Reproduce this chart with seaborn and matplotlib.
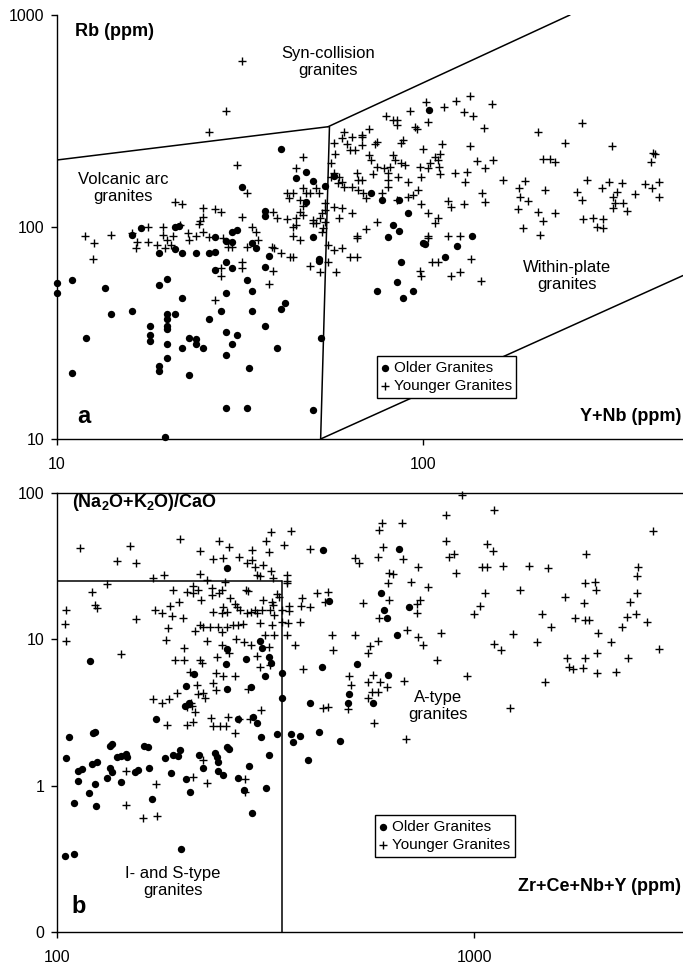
import pandas as pd
import matplotlib
matplotlib.use("Agg")
import matplotlib.pyplot as plt
import seaborn as sns
from matplotlib.ticker import NullLocator

# panel a : Rb vs Y+Nb (Pearce et al.)
older_a = [(41,233),(45,170),(48,181),(50,165),(54,156),(32,155),(48,131),(37,119),(37,113),(30,95),(31,97),(27,90),
           (21,100),(21.5,101),(17,99),(16,92),(50,90),(29,86),(30,85),(19,75),(21,79),(22,75),(24,75),(26,75),(27,76),
           (34,84),(35,80),(38,73),(52,71),(52,69),(29,68),(27,63),(30,64),(37,65),(10,54.5),(10,49),(11,56),(13.5,51.5),
           (19,53),(20,57),(33,56),(34,50),(29,49),(22,46),(16,40),(14,39),(20,39),(20,37),(21,39),(28,40),(34,40),(41,41),
           (42,44),(26,37),(18,34),(18,31),(18,29),(20,34),(20,33),(37,34),(29,32),(31,31),(12,30),(23,30),(24,29.6),(24,28),
           (25,27),(22,27),(20,28),(30,28),(40,27),(52.6,30),(29,25),(20,24),(19,22),(19,21),(33.5,21.6),(11,20.5),(23,20),
           (29,14),(33,14),(50,13.7),(19.7,10.2),(104,356),(57,174),(72,145),(77,134),(86,134),(91,116),(83,102),(86,96),
           (80,90),(136,91),(100,84),(101,83),(124,81),(115,72),(87,68),(85,55),(94,50),(75,50),(88,46)]

younger_a = [(32,607),(29,352),(26,280),(31,196),(47,214),(45,190),(42.5,145),(44,145),(43,137),(47,153),(48,145),(49,145),
             (51,153),(52,145),(46,134),(47,126),(46,118),(47,114),(33,145),(21,131),(22,128),(25,123),(27,122),(28,118),
             (25,111.5),(24.6,107),(32,111),(34,100),(35,95),(39,118),(40,110),(42.5,109),(45,110),(50,108),(52.3,110),
             (53,116),(54,120),(44,100),(44,91),(11.9,91),(12.6,84),(12.5,71),(14,92),(16,94),(16.5,85),(16.4,80),(17.7,85),
             (18.8,82),(19.5,92),(20,87),(19.7,80),(20.5,82),(20.7,91),(17.7,100),(19.5,100),(21.7,102),(22.8,94),(23,87),
             (24,91),(25,95),(24.4,103),(26,90),(28.4,89),(29.3,80.5),(30,80.5),(33,80.5),(28,64),(28,59),(27,45),(32,68),
             (32,64),(35.4,87),(38.7,80.5),(39.2,79.6),(41,75),(43.3,72),(44,72),(38,54),(39,62),(46,87),(45,102),(50,104),
             (51,104),(53,95),(49,65.5),(52.3,61),(55,82),(57,78),(60,80),(55,68),(58,61),(63,72),(66,72),(66,89),
             (102,388),(114,368),(123,393),(134.5,415),(154,380),(129,349),(137,334),(103,313),(92,352),(85,320),(83,320),
             (85,303),(79,334),(95,296),(96,290),(147,293),(71,290),(68,272),(68,266),(64,266),(60,263),(61,280),(57,249),
             (57.5,221),(63,231),(62,246),(65,231),(68,244),(74,246),(75,252),(87,249),(88,257),(100,233),(113,246),
             (134.5,241),(56,200),(57,180),(56,172),(59,172),(60,163),(61,154),(58.6,161),(71,219),(72,207),(75,192),
             (78,190),(81,192),(87,200),(83,219),(84,207),(89,196),(98,192),(103,190),(104.5,200),(108,214),(111,221),
             (110,207),(110.6,192),(66,180),(66.5,167),(68,167),(73,178),(80,180),(80,167),(85.5,172),(91,163),(99,172),
             (111,178),(122,180),(132,182),(130,163),(148,190),(155,207),(140,205),(64,154),(66.5,149),(68.6,145),(70,137),
             (77,145),(80,154),(97,149),(94,141.5),(91,138.5),(85,134),(99,128),(117,133),(119,124),(129,128),(145,145),
             (148,131),(54,130),(57,124),(60,123),(59,110),(64,116),(54,105.5),(53.3,99),(70,98),(75,105.5),(66,91),
             (103,116),(108,104),(110,110),(103,91),(117,91),(126,91),
             (206,280),(272,310),(244,249),(329,241),(425,223),(420,202),(431,221),(213,209),(222,209),(230,202),(165,167),
             (183,153),(190,165),(184,138.5),(194,133),(216,149),(182,122),(206,118),(230,116),(213,107),(188,99),(209,92),
             (281,167),(264,146),(272,134),(309,153),(322,163),(350,161),(339,146),(331,138.5),(335,130),(331,123),(352,130),
             (361,119),(380,143),(404,159),(423,153),(442,163),(442,138.5),(274,109),(292,110),(311,109),(299,100),(311,99),
             (103,89),(135,71),(144,55.6),(126,61),(119,59),(98,62),(99,59),(106,68),(110,68)]

# field boundaries panel a
a_bound_x = [[10, 55], [55, 252], [55.5, 52.5], [52.5, 513]]
a_bound_y = [[207, 297], [297, 1000], [297, 10], [10, 59]]

# panel b : (Na2O+K2O)/CaO vs Zr+Ce+Nb+Y (Whalen et al.)
older_b = [(256,30.7),(434,40.8),(449,18.3),(661,41.4),(598,20.7),(608,15.9),(618,14.0),(698,16.7),(120,7.1),(256,8.6),
           (284,7.3),(307,9.7),(310,8.7),(322,7.6),(326,6.9),(315,5.6),(254,6.8),(213,5.8),(204,4.8),(256,4.6),(292,4.7),
           (346,5.9),(346,4.0),(432,6.5),(203,3.5),(207,3.7),(173,2.86),(272,2.86),(295,2.95),(302,2.68),(308,2.15),
           (337,2.25),(364,2.25),(368,1.99),(382,2.18),(425,2.33),(477,2.02),(404,3.67),(499,3.67),(501,4.23),(524,6.8),
           (107,2.15),(122,2.29),(123,2.33),(134,1.87),(135.5,1.92),(162,1.87),(165,1.84),(197,1.75),(190,1.62),
           (181.5,1.54),(195,1.59),(139,1.57),(142,1.59),(146,1.64),(147,1.57),(219,1.62),(239,1.67),(242,1.57),(243,1.45),
           (256,1.84),(258,1.78),(105,1.54),(112,1.26),(115,1.30),(121,1.41),(125,1.45),(134,1.32),(135.5,1.24),(132,1.13),
           (142,1.06),(154,1.24),(156,1.28),(166,1.32),(188,1.22),(224,1.32),(243,1.26),(250,1.18),(289,1.37),(112,1.07),
           (123,1.02),(204,1.11),(272,1.13),(119,0.89),(208,0.90),(169,0.81),(317,0.97),(281,0.93),(400,1.50),(322,1.62),
           (110,0.76),(124,0.73),(293,0.65),(198,0.37),(104.5,0.33),(110,0.34),(653,10.7),(622,5.7),(572,3.67)]

younger_b = [(113.5,42),(150,43.4),(139,34.2),(155,33.2),(197,48.5),(220,40.1),(245,46.9),(258,42.7),(237,35.4),(250,36),
             (273,36.6),(285,33.2),(293,40.8),(293,34.8),(298,31.2),(312,32.2),(326,54.2),(364,55),(317,46.9),(322,39.5),
             (350,44.1),(404,41.4),(326,29.3),(302,27.5),(307,27.1),(329,26.3),(356,27.5),(356,25),(220,28),(229,25.4),
             (253,24.6),(170,26.3),(181,27.5),(132,23.9),(121,21),(123,17.2),(125,16.4),(105,15.9),(104.5,12.7),(155,13.8),
             (190,21.7),(205,21),(212,23.1),(212,20.7),(218,21.7),(221,18.6),(235,22.4),(235,20.1),(245,20.7),(249,21.7),
             (260,19.1),(284,21.7),(287,21.4),(337,20.4),(341,19.4),(356,24.2),(172,15.9),(179,15.2),(187,16.9),(196,18),
             (189,14.5),(200,14),(185,12),(237,15.4),(249,15.2),(250,16.7),(256,15.4),(267,17.5),(270,16.7),(275,15.9),
             (285,15.2),(292,15.4),(298,15.9),(302,15.2),(310,15.9),(312,18.6),(328,18),(329,17.2),(324,15.9),(331,14.7),
             (346,15.9),(360,16.9),(360,15.6),(387,19.1),(385,16.9),(404,16.7),(420,20.7),(446,21),(439,18),(382,13.1),
             (358,12.9),(220,12.5),(224,12.1),(233,12.1),(243,12.1),(256,12.1),(264,12.5),(272,12.5),(279,12.7),(307,12.9),
             (328,12.5),(346,13.1),
             (105,9.7),(142,7.9),(183,9.9),(214,11.4),(249,11.2),(331,10.7),(356,10.7),(202,8.7),(229,9.7),(249,9.15),
             (269,10.1),(281,9.6),(292,9.15),(322,8.9),(315,10.7),(192,7.2),(202,7.2),(220,7.2),(223,6.9),(242,7.6),
             (258,8.1),(302,7.7),(307,6.5),(324,6.7),(372,9.15),(389,6.3),(456,10.7),(459,8.46),(518,10.7),(208,6.0),
             (240,5.9),(250,5.6),(267,5.6),(237,5.0),(217,4.9),(224,4.3),(226,4.0),(240,4.5),(287,4.6),(194,4.3),(218,4.2),
             (209.5,3.67),(170,3.9),(179,3.67),(186,3.9),(205,3.45),(211,3.5),(214,3.19),(308,3.29),(434,3.4),(446,3.45),
             (501,5.6),(507,4.9),(499,3.34),(184,2.6),(205,2.6),(212,2.72),(234,2.9),(237,2.56),(246,2.56),(254,2.56),
             (257,2.95),(267,2.29),(273,2.86),(290,2.86),(224,1.5),(212,1.15),(229,1.04),(282,1.11),(282,0.90),(173,1.02),
             (146,1.26),(146,0.74),(161,0.60),(174,0.62),
             (936,96.9),(1117,76.5),(857,70.7),(592,55.9),(601,62.4),(672,62.4),(2686,55),(857,46.9),(605,42.7),(588,36.6),
             (675,35.4),(1074,44.8),(1110,40.1),(518,36),(530,33.2),(871,36.6),(895,38.3),(734,31.2),(625,28.4),(639,28),
             (622,24.2),(706,24.6),(625,18.6),(542,17.7),(905,28.4),(1044,31.2),(1074,31.2),(1173,31.7),(1355,31.7),
             (1504,30.7),(1855,38.3),(2473,31.2),(2459,27.1),(776,22.8),(742,18.6),(730,15.2),(730,17.5),(1062,20.7),
             (1289,21.7),(1033,16.9),(1000,14.9),(1652,19.4),(1845,24.2),(1950,24.6),(1961,21.7),(1835,17.7),(2459,20.7),
             (2366,18),(2446,14.9),(2327,14.2),(2599,13.1),(1455,14.9),(1529,12.1),(1747,14),(1845,13.5),(1887,13.5),
             (2264,12.1),(592,14),(563,9.0),(588,9.7),(557,8.1),(691,11.6),(734,10.4),(754,9.15),(833,11.1),(1116,9.3),
             (1160,8.46),(1240,10.9),(1416,9.6),(1670,7.5),(1689,6.5),(1727,6.3),(1845,7.5),(1825,6.4),(1972,8.1),
             (1972,5.9),(2189,6.0),(2130,9.6),(1983,11.1),(2340,7.5),(2777,8.6),(1479,5.1),(1220,3.4),(962,5.6),(557,5.1),
             (572,5.7),(595,5.1),(569,4.4),(588,4.4),(618,4.7),(557,4.0),(679,5.2),(576,2.7),(687,2.08),(815,7.2)]

b_bound_x = [[100, 347], [347, 347]]
b_bound_y = [[25, 25], [25, 0.1]]

a_yticks = [10, 100, 1000]
a_xticks = [10, 100]
b_yticks = [0.1, 1, 10, 100]
b_yticklabels = ["0", "1", "10", "100"]
b_xticks = [100, 1000]

sns.set_style("ticks")
plt.rcParams['font.family'] = ['Liberation Sans', 'DejaVu Sans']
plt.rcParams['mathtext.fontset'] = 'custom'
plt.rcParams['mathtext.rm'] = 'Liberation Sans'
plt.rcParams['mathtext.bf'] = 'Liberation Sans:bold'
plt.rcParams['text.color'] = 'black'
plt.rcParams['axes.labelcolor'] = 'black'
plt.rcParams['legend.labelcolor'] = 'black'

fig = plt.figure(figsize=(6.83, 9.65), dpi=100)
ax1 = fig.add_axes([0.0835, 0.5451, 0.9165, 0.4394])
ax2 = fig.add_axes([0.0835, 0.0342, 0.9165, 0.4549])


def draw_points(ax, old, young):
    df_o = pd.DataFrame(old, columns=['x', 'y'])
    df_y = pd.DataFrame(young, columns=['x', 'y'])
    sns.scatterplot(data=df_o, x='x', y='y', marker='o', color='black', s=28, linewidth=0,
                    ax=ax, label='Older Granites', clip_on=False, zorder=3)
    sns.scatterplot(data=df_y, x='x', y='y', marker='+', color='black', s=36, linewidth=1.0,
                    ax=ax, label='Younger Granites', clip_on=False, zorder=3)
    ax.set_xlabel('')
    ax.set_ylabel('')


def style_axes(ax):
    ax.set_xscale('log')
    ax.set_yscale('log')
    ax.xaxis.set_minor_locator(NullLocator())
    ax.yaxis.set_minor_locator(NullLocator())
    ax.tick_params(axis='both', direction='out', length=4, width=1, labelsize=11.5, colors='black')
    ax.tick_params(axis='x', pad=9)
    ax.tick_params(axis='y', pad=5)
    for s in ax.spines.values():
        s.set_linewidth(1.0)
        s.set_color('black')
    ax.spines['right'].set_visible(False)


def add_legend(ax, x0, y0):
    leg = ax.legend(loc='lower left', bbox_to_anchor=(x0, y0), borderaxespad=0, frameon=True,
                    fancybox=False, edgecolor='black', framealpha=1, fontsize=11,
                    handlelength=0.5, handletextpad=0.3, borderpad=0.3, labelspacing=0.3,
                    markerscale=1.0)
    leg.get_frame().set_linewidth(1.0)


# ---- panel a
draw_points(ax1, older_a, younger_a)
for bx, by in zip(a_bound_x, a_bound_y):
    ax1.plot(bx, by, color='black', lw=1.1)
style_axes(ax1)
ax1.spines['top'].set_visible(False)
ax1.set_xlim(10, 513)
ax1.set_ylim(10, 1000)
ax1.set_xticks(a_xticks)
ax1.set_xticklabels([str(t) for t in a_xticks])
ax1.set_yticks(a_yticks)
ax1.set_yticklabels([str(t) for t in a_yticks])

ax1.text(0.029, 0.960, 'Rb (ppm)', transform=ax1.transAxes, fontsize=13, fontweight='bold', ha='left', va='center')
ax1.text(0.433, 0.889, 'Syn-collision\ngranites', transform=ax1.transAxes, fontsize=12, ha='center', va='center')
ax1.text(0.105, 0.592, 'Volcanic arc\ngranites', transform=ax1.transAxes, fontsize=12, ha='center', va='center')
ax1.text(0.815, 0.384, 'Within-plate\ngranites', transform=ax1.transAxes, fontsize=12, ha='center', va='center')
ax1.text(0.043, 0.052, 'a', transform=ax1.transAxes, fontsize=17, fontweight='bold', ha='center', va='center')
ax1.text(0.997, 0.052, 'Y+Nb (ppm)', transform=ax1.transAxes, fontsize=13, fontweight='bold', ha='right', va='center')
add_legend(ax1, 0.511, 0.097)

# ---- panel b
draw_points(ax2, older_b, younger_b)
for bx, by in zip(b_bound_x, b_bound_y):
    ax2.plot(bx, by, color='black', lw=1.1)
style_axes(ax2)
ax2.set_xlim(100, 3170)
ax2.set_ylim(0.1, 100)
ax2.set_xticks(b_xticks)
ax2.set_xticklabels([str(t) for t in b_xticks])
ax2.set_yticks(b_yticks)
ax2.set_yticklabels(b_yticklabels)

ax2.text(0.024, 0.979, r'(Na$_\mathbf{2}$O+K$_\mathbf{2}$O)/CaO', transform=ax2.transAxes, fontsize=13,
         fontweight='bold', ha='left', va='center')
ax2.text(0.609, 0.515, 'A-type\ngranites', transform=ax2.transAxes, fontsize=12, ha='center', va='center')
ax2.text(0.185, 0.114, 'I- and S-type\ngranites', transform=ax2.transAxes, fontsize=12, ha='center', va='center')
ax2.text(0.034, 0.057, 'b', transform=ax2.transAxes, fontsize=17, fontweight='bold', ha='center', va='center')
ax2.text(0.997, 0.103, 'Zr+Ce+Nb+Y (ppm)', transform=ax2.transAxes, fontsize=13, fontweight='bold',
         ha='right', va='center')
add_legend(ax2, 0.508, 0.171)

fig.savefig('out.png', dpi=100)
